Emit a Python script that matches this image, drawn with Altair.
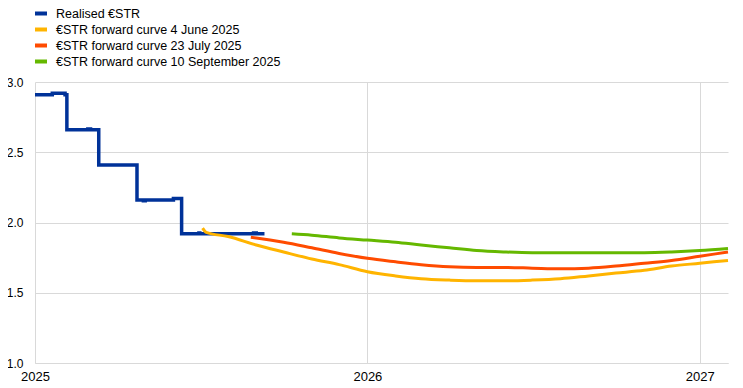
import altair as alt
import pandas as pd

# ---- data ----
names = [
    "Realised €STR",
    "€STR forward curve 4 June 2025",
    "€STR forward curve 23 July 2025",
    "€STR forward curve 10 September 2025",
]
colors = ["#003299", "#FFB400", "#FF4B00", "#65B800"]

realised_dates = [
    "2025-01-01", "2025-01-20", "2025-01-31", "2025-02-03", "2025-02-05",
    "2025-02-20", "2025-02-28", "2025-03-03", "2025-03-12", "2025-03-31",
    "2025-04-01", "2025-04-23", "2025-04-30", "2025-05-02", "2025-05-30",
    "2025-06-02", "2025-06-11", "2025-06-30", "2025-07-01", "2025-07-31",
    "2025-08-01", "2025-08-29", "2025-09-01", "2025-09-10",
]
realised_values = [
    2.91, 2.92, 2.92, 2.91, 2.66,
    2.66, 2.665, 2.66, 2.41, 2.41,
    2.41, 2.16, 2.155, 2.16, 2.16,
    2.17, 1.92, 1.925, 1.92, 1.92,
    1.92, 1.925, 1.92, 1.92,
]

jun_dates = [
    "2025-07-04", "2025-07-08", "2025-08-01", "2025-09-01", "2025-10-01",
    "2025-11-01", "2025-12-01", "2026-01-01", "2026-02-01", "2026-03-01",
    "2026-04-01", "2026-05-01", "2026-06-01", "2026-07-01", "2026-08-01",
    "2026-09-01", "2026-10-01", "2026-11-01", "2026-12-01", "2027-01-01",
    "2027-02-01",
]
jun_values = [
    1.96, 1.93, 1.90, 1.84, 1.79,
    1.74, 1.70, 1.65, 1.62, 1.60,
    1.59, 1.585, 1.585, 1.59, 1.60,
    1.62, 1.64, 1.66, 1.69, 1.71,
    1.73,
]

jul_dates = [
    "2025-08-26", "2025-09-01", "2025-10-01", "2025-11-01", "2025-12-01",
    "2026-01-01", "2026-02-01", "2026-03-01", "2026-04-01", "2026-05-01",
    "2026-06-01", "2026-07-01", "2026-08-01", "2026-09-01", "2026-10-01",
    "2026-11-01", "2026-12-01", "2027-01-01", "2027-02-01",
]
jul_values = [
    1.895, 1.89, 1.86, 1.82, 1.78,
    1.745, 1.72, 1.70, 1.685, 1.68,
    1.68, 1.675, 1.67, 1.675, 1.69,
    1.71, 1.73, 1.76, 1.79,
]

sep_dates = [
    "2025-10-10", "2025-11-01", "2025-12-01", "2026-01-01", "2026-02-01",
    "2026-03-01", "2026-04-01", "2026-05-01", "2026-06-01", "2026-07-01",
    "2026-08-01", "2026-09-01", "2026-10-01", "2026-11-01", "2026-12-01",
    "2027-01-01", "2027-02-01",
]
sep_values = [
    1.92, 1.91, 1.89, 1.875, 1.86,
    1.84, 1.82, 1.80, 1.79, 1.785,
    1.785, 1.785, 1.785, 1.785, 1.79,
    1.80, 1.815,
]

year_ticks = [2025, 2026, 2027]
y_ticks = [1.0, 1.5, 2.0, 2.5, 3.0]


def frame(name, dates, values):
    return pd.DataFrame({
        "series": name,
        "date": [d + "T00:00:00" for d in dates],
        "value": values,
    })


df_real = frame(names[0], realised_dates, realised_values)
df_fwd = pd.concat([
    frame(names[1], jun_dates, jun_values),
    frame(names[2], jul_dates, jul_values),
    frame(names[3], sep_dates, sep_values),
])

FONT = "Liberation Sans"

x_enc = alt.X(
    "date:T",
    title=None,
    scale=alt.Scale(domain=[alt.DateTime(year=2025, month=1, date=1),
                            alt.DateTime(year=2027, month=2, date=1)]),
    axis=alt.Axis(
        values=[alt.DateTime(year=y, month=1, date=1) for y in year_ticks],
        format="%Y", grid=True, ticks=False, domain=True,
        labelPadding=7, labelFlush=False, labelOverlap=False,
        labelFontSize=13,
    ),
)
y_enc = alt.Y(
    "value:Q",
    title=None,
    scale=alt.Scale(domain=[1.0, 3.0], nice=False, zero=False),
    axis=alt.Axis(values=y_ticks, format=".1f", grid=True, ticks=False,
                  domain=False, labelPadding=12, labelFontSize=12),
)
color_enc = alt.Color(
    "series:N",
    scale=alt.Scale(domain=names, range=colors),
    legend=alt.Legend(
        title=None, orient="none", legendX=-2, legendY=-76.5, padding=0,
        symbolType="stroke", symbolStrokeWidth=4, symbolSize=144,
        labelFont=FONT, labelFontSize=12.5, labelColor="#000000",
        rowPadding=0, labelOffset=7, labelLimit=400,
    ),
)

realised = alt.Chart(df_real).mark_line(
    interpolate="step-after", strokeWidth=3.5
).encode(x=x_enc, y=y_enc, color=color_enc)

forward = alt.Chart(df_fwd).mark_line(
    interpolate="monotone", strokeWidth=3
).encode(x=x_enc, y=y_enc, color=color_enc)

chart = alt.layer(realised, forward).properties(
    width=693, height=281,
    autosize=alt.AutoSizeParams(type="none"),
    padding={"left": 27, "top": 74, "right": 7, "bottom": 24},
).configure_view(stroke=None).configure_axis(
    gridColor="#d9d9d9", domainColor="#d9d9d9", gridWidth=1,
    labelFont=FONT, labelColor="#000000",
)

chart.save("out.html", embed_options={"renderer": "svg", "actions": False})
